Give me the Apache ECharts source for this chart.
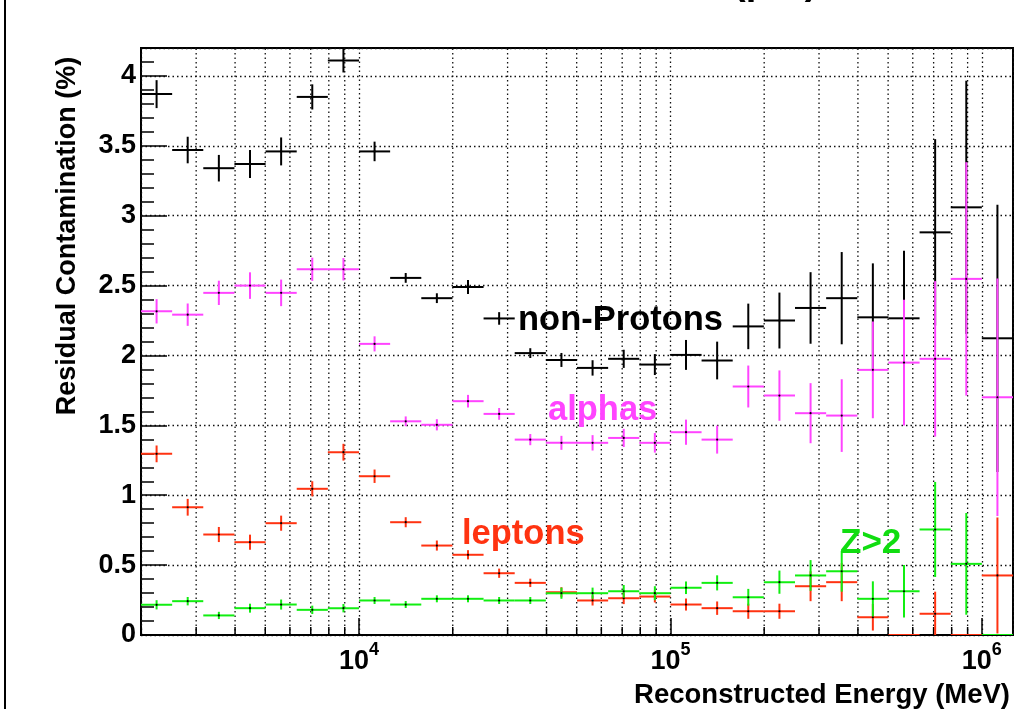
<!DOCTYPE html>
<html>
<head>
<meta charset="utf-8">
<script src="https://cdn.jsdelivr.net/npm/echarts@6/dist/echarts.min.js"></script>
<style>
html,body{margin:0;padding:0;background:#fff;}
#chart{width:1014px;height:709px;}
</style>
</head>
<body>
<div id="chart"></div>
<script>
// Energy bin edges (MeV), 0.1 decade wide
const binEdges = [1995, 2512, 3162, 3981, 5012, 6310, 7943, 10000, 12589, 15849, 19953, 25119, 31623, 39811, 50119, 63096, 79433, 100000, 125893, 158489, 199526, 251189, 316228, 398107, 501187, 630957, 794328, 1000000, 1258925];
// Bin centres (MeV)
const binCenters = [2239, 2818, 3548, 4467, 5623, 7079, 8913, 11220, 14125, 17783, 22387, 28184, 35481, 44668, 56234, 70795, 89125, 112202, 141254, 177828, 223872, 281838, 354813, 446684, 562341, 707946, 891251, 1122018];

// non-Protons
const nonProtons = [3.87, 3.47, 3.34, 3.37, 3.46, 3.85, 4.11, 3.46, 2.555, 2.41, 2.49, 2.265, 2.017, 1.968, 1.911, 1.976, 1.935, 2.004, 1.964, 2.208, 2.25, 2.34, 2.41, 2.273, 2.266, 2.881, 3.06, 2.123];
const nonProtonsErr = [0.10, 0.095, 0.095, 0.10, 0.10, 0.09, 0.085, 0.07, 0.035, 0.035, 0.05, 0.045, 0.035, 0.05, 0.055, 0.065, 0.075, 0.107, 0.135, 0.163, 0.20, 0.256, 0.33, 0.386, 0.484, 0.667, 0.906, 0.956];
// alphas
const alphas = [2.316, 2.292, 2.448, 2.50, 2.448, 2.617, 2.617, 2.083, 1.529, 1.504, 1.673, 1.582, 1.398, 1.375, 1.375, 1.41, 1.375, 1.451, 1.398, 1.778, 1.713, 1.587, 1.57, 1.897, 1.949, 1.976, 2.548, 1.701];
const alphasErr = [0.087, 0.08, 0.087, 0.095, 0.095, 0.083, 0.08, 0.054, 0.035, 0.04, 0.045, 0.042, 0.04, 0.05, 0.055, 0.065, 0.07, 0.09, 0.10, 0.15, 0.18, 0.215, 0.26, 0.346, 0.45, 0.556, 0.835, 0.85];
// leptons
const leptons = [1.296, 0.914, 0.719, 0.664, 0.80, 1.046, 1.308, 1.136, 0.807, 0.64, 0.574, 0.442, 0.373, 0.306, 0.247, 0.263, 0.275, 0.218, 0.192, 0.17, 0.17, 0.349, 0.378, 0.127, 0, 0.152, 0, 0.426];
const leptonsErr = [0.06, 0.06, 0.054, 0.054, 0.054, 0.054, 0.06, 0.048, 0.036, 0.036, 0.033, 0.033, 0.03, 0.036, 0.036, 0.042, 0.042, 0.043, 0.048, 0.054, 0.054, 0.107, 0.136, 0.095, 0, 0.158, 0, 0.415];
// Z>2
const zGt2 = [0.216, 0.242, 0.14, 0.192, 0.218, 0.18, 0.192, 0.247, 0.218, 0.259, 0.259, 0.247, 0.247, 0.299, 0.299, 0.313, 0.299, 0.338, 0.373, 0.27, 0.378, 0.426, 0.456, 0.259, 0.313, 0.755, 0.509, 0];
const zGt2Err = [0.033, 0.03, 0.026, 0.032, 0.036, 0.03, 0.03, 0.025, 0.025, 0.025, 0.025, 0.025, 0.025, 0.04, 0.04, 0.045, 0.05, 0.045, 0.054, 0.06, 0.083, 0.11, 0.146, 0.125, 0.188, 0.34, 0.364, 0];

// axis ranges and minor x grid positions
const xMin = 1995.26, xMax = 1258925;
const yMin = 0, yMax = 4.2;
const xMinorTicks = [2000, 3000, 4000, 5000, 6000, 7000, 8000, 9000, 20000, 30000, 40000, 50000, 60000, 70000, 80000, 90000, 200000, 300000, 400000, 500000, 600000, 700000, 800000, 900000];

const FONT = '"Liberation Sans", Arial, Helvetica, sans-serif';
const DOT = [1.5, 3];

function buildData(vals, errs) {
  return vals.map((v, i) => [binCenters[i], v, errs[i], binEdges[i], binEdges[i + 1]]);
}

function crossRender(color) {
  return function (params, api) {
    const xc = api.value(0), y = api.value(1), e = api.value(2), xl = api.value(3), xh = api.value(4);
    const pL = api.coord([xl, y]), pR = api.coord([xh, y]);
    const pC = api.coord([xc, y]);
    const children = [{
      type: 'line', shape: { x1: pL[0], y1: pL[1], x2: pR[0], y2: pR[1] },
      style: { stroke: color, lineWidth: 2 }
    }];
    if (e > 0) {
      const pT = api.coord([xc, y + e]), pB = api.coord([xc, Math.max(y - e, yMin)]);
      children.push({
        type: 'line', shape: { x1: pT[0], y1: pT[1], x2: pB[0], y2: pB[1] },
        style: { stroke: color, lineWidth: 2 }
      });
      children.push({ type: 'circle', shape: { cx: pC[0], cy: pC[1], r: 1.1 }, style: { fill: '#000' } });
    }
    return { type: 'group', children: children };
  };
}

function gridRender(params, api) {
  const v = api.value(0);
  const pb = api.coord([v, yMin]), pt = api.coord([v, yMax]);
  return {
    type: 'group',
    children: [
      { type: 'line', shape: { x1: pb[0], y1: pb[1], x2: pt[0], y2: pt[1] },
        style: { stroke: '#111', lineWidth: 1.3, lineDash: DOT } },
      { type: 'line', shape: { x1: pb[0], y1: pb[1], x2: pb[0], y2: pb[1] - 8 },
        style: { stroke: '#000', lineWidth: 1.5 } }
    ]
  };
}

const chart = echarts.init(document.getElementById('chart'));
chart.setOption({
  backgroundColor: '#fff',
  animation: false,
  grid: { left: 141, right: 1, top: 48, bottom: 74, show: true, borderColor: '#000', borderWidth: 2, backgroundColor: 'transparent' },
  xAxis: {
    type: 'log', logBase: 10, min: xMin, max: xMax,
    axisLine: { show: true, lineStyle: { color: '#000', width: 2 } },
    axisTick: { show: true, inside: true, length: 17, lineStyle: { color: '#000', width: 1.5 } },
    splitLine: { show: true, lineStyle: { color: '#111', width: 1.3, type: DOT } },
    axisLabel: {
      showMinLabel: false, showMaxLabel: false, margin: 6,
      formatter: function (v) {
        const l = Math.log10(v), e = Math.round(l);
        if (Math.abs(l - e) < 1e-6) return '{b|10}{s|' + e + '}';
        return '';
      },
      rich: {
        b: { fontSize: 27, fontWeight: 'bold', fontFamily: FONT, color: '#000', lineHeight: 34, verticalAlign: 'bottom' },
        s: { fontSize: 18, fontWeight: 'bold', fontFamily: FONT, color: '#000', lineHeight: 18, verticalAlign: 'top' }
      }
    }
  },
  yAxis: {
    type: 'value', min: yMin, max: yMax, interval: 0.5,
    axisLine: { show: true, lineStyle: { color: '#000', width: 2 } },
    axisTick: { show: true, inside: true, length: 26, lineStyle: { color: '#000', width: 1.5 } },
    minorTick: { show: true, splitNumber: 5, length: 13, lineStyle: { color: '#000', width: 1.5 } },
    splitLine: { show: true, lineStyle: { color: '#111', width: 1.3, type: DOT } },
    axisLabel: {
      showMaxLabel: false, margin: 5, color: '#000', fontSize: 27, fontWeight: 'bold', fontFamily: FONT,
      formatter: function (v) { return String(v); }
    }
  },
  graphic: [
    { type: 'rect', shape: { x: 4, y: 0, width: 2, height: 709 }, style: { fill: '#000' } },
    { type: 'text', x: 733, y: -16, style: { text: '(pre)', font: 'bold 38px ' + FONT, fill: '#000', verticalAlign: 'middle' } },
    { type: 'text', x: 68, y: 236, rotation: Math.PI / 2,
      style: { text: 'Residual Contamination (%)', font: 'bold 27px ' + FONT, fill: '#000', align: 'center', verticalAlign: 'middle' } },
    { type: 'text', x: 1010, y: 695,
      style: { text: 'Reconstructed Energy (MeV)', font: 'bold 27.5px ' + FONT, fill: '#000', align: 'right', verticalAlign: 'middle' } },
    { type: 'text', x: 518, y: 320, z: 100,
      style: { text: 'non-Protons', font: 'bold 34.5px ' + FONT, fill: '#000', verticalAlign: 'middle' } },
    { type: 'text', x: 548, y: 410, z: 100,
      style: { text: 'alphas', font: 'bold 34.5px ' + FONT, fill: '#ff44ff', verticalAlign: 'middle' } },
    { type: 'text', x: 462, y: 534, z: 100,
      style: { text: 'leptons', font: 'bold 34.5px ' + FONT, fill: '#ff3311', verticalAlign: 'middle' } },
    { type: 'text', x: 840, y: 543, z: 100,
      style: { text: 'Z>2', font: 'bold 35px ' + FONT, fill: '#11dd11', verticalAlign: 'middle' } }
  ],
  series: [
    { type: 'custom', name: 'grid', z: 1, silent: true, clip: true,
      data: xMinorTicks.map(v => [v, 0]), encode: { x: 0, y: 1 }, renderItem: gridRender },
    { type: 'custom', name: 'non-Protons', z: 5, clip: true,
      data: buildData(nonProtons, nonProtonsErr), encode: { x: 0, y: 1 }, renderItem: crossRender('#000') },
    { type: 'custom', name: 'alphas', z: 6, clip: true,
      data: buildData(alphas, alphasErr), encode: { x: 0, y: 1 }, renderItem: crossRender('#ff44ff') },
    { type: 'custom', name: 'leptons', z: 7, clip: true,
      data: buildData(leptons, leptonsErr), encode: { x: 0, y: 1 }, renderItem: crossRender('#ff3311') },
    { type: 'custom', name: 'Z>2', z: 8, clip: true,
      data: buildData(zGt2, zGt2Err), encode: { x: 0, y: 1 }, renderItem: crossRender('#11ee11') }
  ]
});
</script>
</body>
</html>
